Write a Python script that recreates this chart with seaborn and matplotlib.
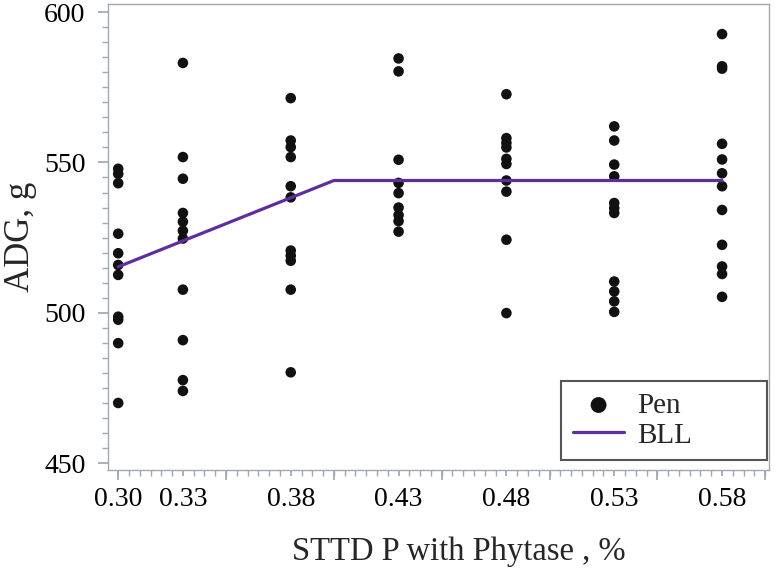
import numpy as np
import pandas as pd
import seaborn as sns
import matplotlib.pyplot as plt
from matplotlib.ticker import MultipleLocator


# STTD P levels (%) and pen ADG (g)
levels = [0.30, 0.33, 0.38, 0.43, 0.48, 0.53, 0.58]
level_labels = ["0.30", "0.33", "0.38", "0.43", "0.48", "0.53", "0.58"]

adg_030 = [547.9, 546.2, 543.1, 526.3, 519.8, 515.9, 512.6, 498.7, 497.7, 489.9, 470.0]
adg_033 = [583.1, 551.8, 544.6, 533.2, 530.3, 527.3, 524.7, 507.7, 490.9, 477.6, 474.0]
adg_038 = [571.4, 557.3, 555.1, 551.8, 542.1, 538.4, 520.7, 519.0, 517.3, 507.7, 480.2]
adg_043 = [584.6, 580.3, 550.9, 543.2, 539.8, 535.0, 532.5, 530.5, 527.0]
adg_048 = [572.7, 558.1, 556.5, 555.0, 551.2, 549.5, 544.0, 540.3, 524.3, 499.9]
adg_053 = [562.0, 557.3, 549.3, 545.4, 536.5, 534.8, 533.2, 510.4, 507.1, 503.8, 500.3]
adg_058 = [592.7, 582.0, 581.2, 556.2, 551.0, 546.4, 542.1, 534.2, 522.6, 515.4, 512.9, 505.3]

# broken-line linear fit
bll_x = [0.30, 0.40, 0.58]
bll_y = [515.3, 544.0, 544.0]

PEN_COLOR = "#111111"
BLL_COLOR = "#5f2d9e"
AXIS_GREY = "#a0a8b2"


adg = [adg_030, adg_033, adg_038, adg_043, adg_048, adg_053, adg_058]
pens = pd.DataFrame({
    "sttd": np.repeat(levels, [len(v) for v in adg]),
    "adg": np.concatenate(adg),
})
bll = pd.DataFrame({"sttd": bll_x, "adg": bll_y})

sns.set_theme(style="ticks")
plt.rcParams["font.family"] = ["Liberation Serif", "DejaVu Serif"]

fig = plt.figure(figsize=(7.8, 5.76), dpi=100)
ax = fig.add_axes([0.138, 0.184, 0.848, 0.809])

sns.scatterplot(data=pens, x="sttd", y="adg", color=PEN_COLOR, s=58,
                edgecolor="none", label="Pen", ax=ax, zorder=2)
sns.lineplot(data=bll, x="sttd", y="adg", color=BLL_COLOR, linewidth=2.3,
             label="BLL", ax=ax, zorder=3)

ax.set_xlim(0.2951, 0.6018)
ax.set_ylim(447.7, 602.7)

ax.set_xticks(levels)
ax.set_xticklabels(level_labels)
ax.xaxis.set_minor_locator(MultipleLocator(0.005))
ax.set_yticks([450, 500, 550, 600])
ax.yaxis.set_minor_locator(MultipleLocator(5))

ax.tick_params(axis="both", which="both", color=AXIS_GREY, labelcolor="black",
               labelsize=20, direction="out")
ax.tick_params(axis="x", which="both", length=4, pad=8)
ax.tick_params(axis="y", which="major", length=7, pad=9)
ax.tick_params(axis="y", which="minor", length=4)

# longer ticks every 0.05 on the x axis
sec = ax.secondary_xaxis("bottom")
sec.set_xticks(np.arange(0.30, 0.601, 0.05))
sec.tick_params(length=7, color=AXIS_GREY, labelbottom=False)
sec.spines["bottom"].set_visible(False)

for spine in ax.spines.values():
    spine.set_visible(True)
    spine.set_color(AXIS_GREY)
    spine.set_linewidth(1.0)

ax.set_xlabel("STTD P with Phytase , %", fontsize=23.5)
ax.xaxis.set_label_coords(0.531, -0.143)
ax.set_ylabel("ADG, g", fontsize=25, labelpad=5)

leg = ax.legend(loc="lower right", bbox_to_anchor=(0.686, 0.021, 0.311, 0.2),
                mode="expand", fontsize=21, frameon=True, fancybox=False,
                framealpha=1, borderpad=0.4, labelspacing=0.12,
                handlelength=1.75, handletextpad=0.45, markerscale=1.5,
                borderaxespad=0)
leg.get_frame().set_edgecolor("#555555")
leg.get_frame().set_linewidth(1.5)

plt.savefig("out.png", dpi=100)
